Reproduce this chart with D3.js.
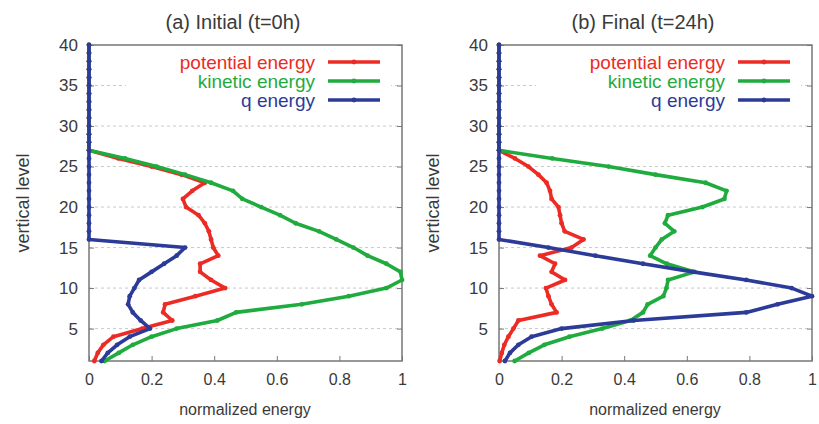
<!DOCTYPE html>
<html>
<head>
<meta charset="utf-8">
<script src="https://cdn.jsdelivr.net/npm/d3@7"></script>
<style>
  body { margin: 0; background: #fff; }
  svg { display: block; font-family: "Liberation Sans", Arial, sans-serif; }
</style>
</head>
<body>
<div id="chart"></div>
<script>
// vertical levels 1..40 (bottom to top)
const levels = [1, 2, 3, 4, 5, 6, 7, 8, 9, 10, 11, 12, 13, 14, 15, 16, 17, 18, 19, 20,
  21, 22, 23, 24, 25, 26, 27, 28, 29, 30, 31, 32, 33, 34, 35, 36, 37, 38, 39, 40];
const yTicks = [5, 10, 15, 20, 25, 30, 35, 40];
const xTicks = [0, 0.2, 0.4, 0.6, 0.8, 1];
const seriesNames = ["potential energy", "kinetic energy", "q energy"];
const seriesColors = ["#ec2b25", "#1fab3d", "#2c3b98"];
const panelTitles = ["(a) Initial (t=0h)", "(b) Final (t=24h)"];

// (a) initial, values for levels 1..40
const initialPotential = [0.017, 0.028, 0.046, 0.078, 0.17, 0.266, 0.237, 0.243, 0.34, 0.435,
  0.39, 0.355, 0.355, 0.413, 0.397, 0.39, 0.383, 0.37, 0.35, 0.31,
  0.30, 0.33, 0.37, 0.296, 0.2, 0.094, 0, 0, 0, 0,
  0, 0, 0, 0, 0, 0, 0, 0, 0, 0];
const initialKinetic = [0.05, 0.095, 0.14, 0.2, 0.28, 0.41, 0.47, 0.68, 0.83, 0.95,
  1.0, 0.995, 0.95, 0.89, 0.845, 0.79, 0.735, 0.66, 0.61, 0.55,
  0.49, 0.46, 0.39, 0.307, 0.216, 0.115, 0, 0, 0, 0,
  0, 0, 0, 0, 0, 0, 0, 0, 0, 0];
const initialQ = [0.04, 0.06, 0.09, 0.13, 0.195, 0.165, 0.14, 0.125, 0.13, 0.145,
  0.16, 0.2, 0.24, 0.28, 0.307, 0, 0, 0, 0, 0,
  0, 0, 0, 0, 0, 0, 0, 0, 0, 0,
  0, 0, 0, 0, 0, 0, 0, 0, 0, 0];

// (b) final, values for levels 1..40
const finalPotential = [0.002, 0.009, 0.017, 0.03, 0.046, 0.062, 0.184, 0.168, 0.158, 0.15,
  0.211, 0.168, 0.179, 0.131, 0.232, 0.27, 0.21, 0.2, 0.195, 0.19,
  0.168, 0.163, 0.152, 0.126, 0.094, 0.051, 0, 0, 0, 0,
  0, 0, 0, 0, 0, 0, 0, 0, 0, 0];
const finalKinetic = [0.05, 0.095, 0.145, 0.225, 0.33, 0.42, 0.46, 0.475, 0.525, 0.535,
  0.54, 0.625, 0.536, 0.483, 0.5, 0.52, 0.56, 0.53, 0.54, 0.65,
  0.72, 0.727, 0.66, 0.5, 0.35, 0.17, 0, 0, 0, 0,
  0, 0, 0, 0, 0, 0, 0, 0, 0, 0];
const finalQ = [0.019, 0.035, 0.062, 0.104, 0.2, 0.43, 0.79, 0.89, 1.0, 0.935,
  0.79, 0.62, 0.46, 0.308, 0.158, 0, 0, 0, 0, 0,
  0, 0, 0, 0, 0, 0, 0, 0, 0, 0,
  0, 0, 0, 0, 0, 0, 0, 0, 0, 0];

const panelData = [
  [initialPotential, initialKinetic, initialQ],
  [finalPotential, finalKinetic, finalQ]
];

const width = 819;
const height = 424;
const plotTop = 45;
const plotBottom = 361;
const plotWidth = 313;
const panelLefts = [89, 499];
const textColor = "#3a3a3a";

const svg = d3.select("#chart").append("svg")
  .attr("width", width)
  .attr("height", height)
  .attr("viewBox", [0, 0, width, height]);

const y = d3.scaleLinear().domain([1, 40]).range([plotBottom, plotTop]);

panelLefts.forEach((left, p) => {
  const x = d3.scaleLinear().domain([0, 1]).range([left, left + plotWidth]);
  const g = svg.append("g");

  // dashed grid
  g.append("g")
    .selectAll("line")
    .data(yTicks.filter(t => t < 40))
    .join("line")
    .attr("x1", x(0)).attr("x2", x(1))
    .attr("y1", d => y(d)).attr("y2", d => y(d))
    .attr("stroke", "#c9c9c9")
    .attr("stroke-dasharray", "3,3");

  // x axis
  g.append("g")
    .attr("transform", `translate(0,${plotBottom})`)
    .call(d3.axisBottom(x).tickValues(xTicks).tickFormat(d3.format("~g"))
      .tickSize(-5).tickSizeOuter(0).tickPadding(13))
    .call(a => a.select(".domain").remove())
    .call(a => a.selectAll(".tick line").attr("stroke", "#777"))
    .call(a => a.selectAll(".tick text")
      .attr("fill", textColor).attr("font-size", 16).attr("font-family", null));

  // y axis
  g.append("g")
    .attr("transform", `translate(${left},0)`)
    .call(d3.axisLeft(y).tickValues(yTicks).tickSize(-5).tickSizeOuter(0).tickPadding(11))
    .call(a => a.select(".domain").remove())
    .call(a => a.selectAll(".tick line").attr("stroke", "#777"))
    .call(a => a.selectAll(".tick text")
      .attr("fill", textColor).attr("font-size", 17).attr("font-family", null));

  // mirrored ticks on the right
  g.append("g")
    .attr("transform", `translate(${left + plotWidth},0)`)
    .call(d3.axisRight(y).tickValues(yTicks).tickSize(-5).tickSizeOuter(0).tickFormat(""))
    .call(a => a.select(".domain").remove())
    .call(a => a.selectAll(".tick line").attr("stroke", "#777"));

  // frame
  g.append("rect")
    .attr("x", x(0)).attr("y", plotTop)
    .attr("width", x(1) - x(0)).attr("height", plotBottom - plotTop)
    .attr("fill", "none")
    .attr("stroke", "#777")
    .attr("stroke-width", 1.5);

  // legend box (opaque, hides the grid)
  const legend = g.append("g");
  legend.append("rect")
    .attr("x", left + 37).attr("y", 51)
    .attr("width", 265).attr("height", 59)
    .attr("fill", "#fff");

  const line = d3.line()
    .x(d => x(d[1]))
    .y(d => y(d[0]));

  panelData[p].forEach((values, s) => {
    const pts = levels.map((lv, i) => [lv, values[i]]);
    g.append("path")
      .datum(pts)
      .attr("fill", "none")
      .attr("stroke", seriesColors[s])
      .attr("stroke-width", 3.6)
      .attr("stroke-linejoin", "round")
      .attr("stroke-linecap", "round")
      .attr("d", line);
    g.append("g")
      .selectAll("circle")
      .data(pts)
      .join("circle")
      .attr("cx", d => x(d[1]))
      .attr("cy", d => y(d[0]))
      .attr("r", 2.4)
      .attr("fill", seriesColors[s]);

    const ly = 62 + s * 19;
    legend.append("text")
      .attr("x", left + 226).attr("y", ly)
      .attr("dy", "0.35em")
      .attr("text-anchor", "end")
      .attr("font-size", 19)
      .attr("fill", seriesColors[s])
      .text(seriesNames[s]);
    legend.append("line")
      .attr("x1", left + 239).attr("x2", left + 291)
      .attr("y1", ly).attr("y2", ly)
      .attr("stroke", seriesColors[s])
      .attr("stroke-width", 3.6);
    legend.append("circle")
      .attr("cx", left + 265).attr("cy", ly).attr("r", 2.4)
      .attr("fill", seriesColors[s]);
  });

  // titles and axis labels
  g.append("text")
    .attr("x", left + 144).attr("y", 29)
    .attr("text-anchor", "middle")
    .attr("font-size", 20)
    .attr("fill", textColor)
    .text(panelTitles[p]);

  g.append("text")
    .attr("transform", `translate(${left - 66},203) rotate(-90)`)
    .attr("dy", "0.35em")
    .attr("text-anchor", "middle")
    .attr("font-size", 18)
    .attr("fill", textColor)
    .text("vertical level");

  g.append("text")
    .attr("x", left + 156).attr("y", 415)
    .attr("text-anchor", "middle")
    .attr("font-size", 16)
    .attr("fill", textColor)
    .text("normalized energy");
});
</script>
</body>
</html>
